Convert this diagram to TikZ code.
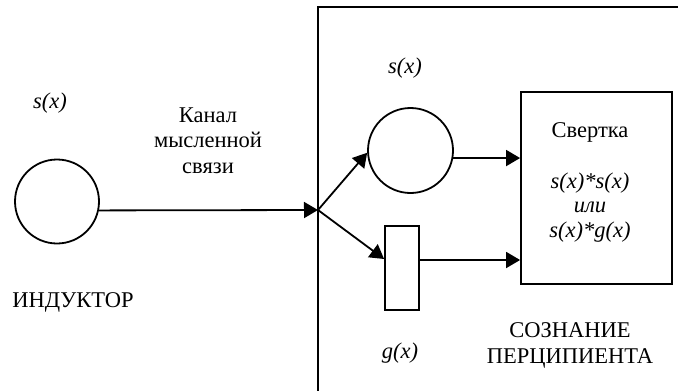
\documentclass[tikz,border=0pt]{standalone}
\usepackage{fontspec}
\setmainfont{Liberation Serif}
\newfontfamily\tmsfont{Liberation Serif}
\usetikzlibrary{arrows.meta,calc}
\begin{document}
\begin{tikzpicture}[x=1pt,y=-1pt,
  every node/.style={font=\tmsfont\fontsize{22.5}{25}\selectfont},
  lbl/.style={anchor=base,inner sep=0pt},
  ilbl/.style={anchor=base,inner sep=0pt,font=\tmsfont\fontsize{22.5}{25}\selectfont\itshape},
  shp/.style={draw,line width=1.8pt,inner sep=0pt},
  conn/.style={line width=1.8pt,-{Triangle[length=14pt,width=16pt]}}]
\useasboundingbox (0,0) rectangle (678,391);
% frame of the percipient
\coordinate (ftr) at (680,7);
\coordinate (ftl) at (318,7);
\coordinate (fbl) at (318,393);
\draw[line width=1.9pt] (ftr) -- (ftl) -- (fbl);
\coordinate (J) at (318,210);
% shapes
\node[shp,circle,minimum size=84pt] (ind) at (57,201.5) {};
\node[shp,circle,minimum size=85pt] (c2) at (410.5,150.5) {};
\node[shp,rectangle,minimum width=34pt,minimum height=84pt] (g) at (402,268) {};
\node[shp,rectangle,minimum width=151pt,minimum height=192pt] (box) at (596.5,188) {};
% connectors
\draw[conn] (ind.-12) -- (J);
\draw[conn] (J) -- (c2.183);
\draw[conn] (J) -- ([yshift=9pt]g.west);
\draw[conn] (c2.-10) -- (c2.-10 -| box.west);
\draw[conn] ([yshift=8pt]g.east) -- ([yshift=8pt]g.east -| box.west);
% labels
\node[ilbl] (s1) at (50,108) {s(x)};
\node[lbl] (k1) at (208,122) {Канал};
\node[lbl] (k2) at (208,147) {мысленной};
\node[lbl] (k3) at (208,173) {связи};
\node[lbl] (indl) at (73,307) {ИНДУКТОР};
\node[ilbl] (s2) at (405,73) {s(x)};
\node[ilbl] (gl) at (400,358) {g(x)};
\node[lbl] (sv) at (590,137) {Свертка};
\node[ilbl] (f1) at (590,188) {s(x)*s(x)};
\node[ilbl] (f2) at (590,212) {или};
\node[ilbl] (f3) at (590,237) {s(x)*g(x)};
\node[lbl] (p1) at (570,337) {СОЗНАНИЕ};
\node[lbl] (p2) at (570,363) {ПЕРЦИПИЕНТА};
\end{tikzpicture}
\end{document}
